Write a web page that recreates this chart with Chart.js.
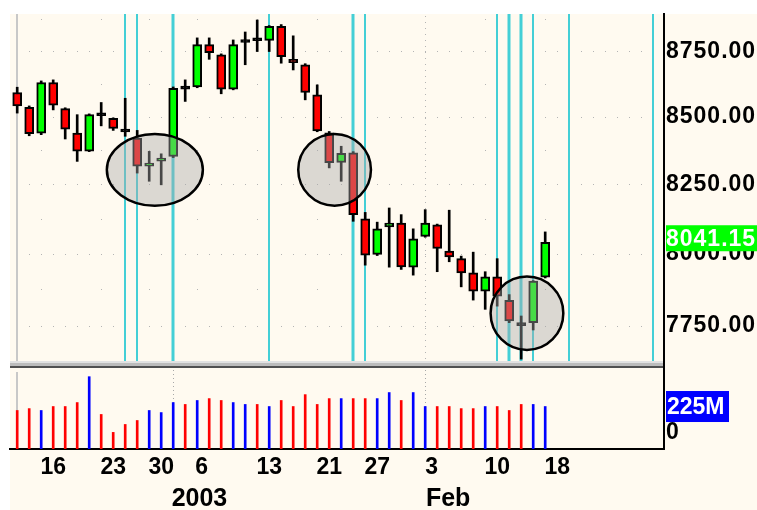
<!DOCTYPE html>
<html>
<head>
<meta charset="utf-8">
<title>Daily candles with volume</title>
<script src="https://cdn.jsdelivr.net/npm/chart.js@4.4.1/dist/chart.umd.min.js"></script>
<style>
  html, body { margin: 0; padding: 0; background: #fff; }
  #wrap { position: relative; width: 757px; height: 510px; overflow: hidden; background: #fff; }
  #paper { position: absolute; left: 10px; top: 14px; right: 0; bottom: 0; background: #fffaf0; }
  canvas { position: absolute; left: 0; }
  #priceChart { top: 0; }
  #volumeChart { top: 362px; }
  #splitter {
    position: absolute; left: 10px; top: 361px; width: 654px; height: 7px;
    background: linear-gradient(#e2e2e2 0, #e2e2e2 2px, #bcbcbc 2px, #bcbcbc 5px, #505050 5px, #505050 7px);
  }
  #splitAxis { position: absolute; left: 663px; top: 361px; width: 2px; height: 8px; background: #000; }
</style>
</head>
<body>
<div id="wrap">
  <div id="paper"></div>
  <canvas id="priceChart" width="757" height="362"></canvas>
  <canvas id="volumeChart" width="757" height="148"></canvas>
  <div id="splitter"></div>
  <div id="splitAxis"></div>
</div>
<script>
// one entry per trading day, 11 Dec 2002 .. 14 Feb 2003
const opens = [8592, 8536, 8439, 8630, 8531, 8439, 8372, 8506, 8494, 8445, 8420, 8316, 8335, 8352, 8607,
  8613, 8776, 8736, 8605, 8784, 8793, 8792, 8847, 8719, 8698, 8583, 8440, 8330, 8366, 8125,
  7998, 8096, 8110, 7953, 8062, 8103, 8010, 7983, 7933, 7869, 7919, 7837, 7752, 7760, 7918];
const highs = [8612, 8541, 8636, 8640, 8534, 8508, 8511, 8554, 8496, 8570, 8449, 8371, 8362, 8613, 8640,
  8802, 8802, 8740, 8794, 8825, 8872, 8850, 8854, 8810, 8702, 8621, 8445, 8390, 8370, 8148,
  8113, 8164, 8140, 8089, 8158, 8106, 8156, 7992, 8006, 7937, 7983, 7857, 7783, 7906, 8078];
const lows = [8514, 8429, 8433, 8526, 8417, 8334, 8370, 8466, 8449, 8427, 8291, 8261, 8248, 8348, 8558,
  8610, 8719, 8587, 8602, 8698, 8749, 8749, 8704, 8678, 8564, 8444, 8310, 8261, 8116, 7960,
  7994, 7953, 7945, 7925, 8059, 7937, 7972, 7884, 7838, 7806, 7817, 7760, 7636, 7735, 7915];
const closes = [8541, 8437, 8630, 8544, 8454, 8372, 8508, 8504, 8456, 8443, 8316, 8328, 8345, 8608, 8605,
  8776, 8745, 8605, 8776, 8786, 8791, 8847, 8729, 8706, 8592, 8447, 8329, 8364, 8140, 7995,
  8089, 8110, 7954, 8053, 8110, 8019, 7989, 7933, 7869, 7919, 7852, 7766, 7750, 7904, 8041.15];
// volume in millions
const volumes = [204, 214, 204, 225, 225, 246, 383, 183, 88, 130, 151, 204, 193, 246, 236,
  257, 267, 257, 246, 236, 236, 225, 257, 225, 288, 236, 267, 267, 267, 267,
  267, 299, 257, 299, 225, 225, 225, 214, 214, 225, 225, 204, 236, 236, 225];

const priceTicks = [7750, 8000, 8250, 8500, 8750];
// tick positions are in bar slots (0 = first bar)
const dateTickBars = [3, 8, 12, 15.37, 21, 26, 30, 34.53, 40, 45];
const dateLabels = ["16", "23", "30", "6", "13", "21", "27", "3", "10", "18"];
const periodTickBars = [12.87, 34.06];
const periodLabels = ["2003", "Feb"];
const weekEndBars = [2, 7, 11, 15, 20, 25, 29, 39, 44];
const periodEndBars = [13, 34];
const signalBars = [9, 10, 21, 29, 40, 43, 46, 53];
const strongSignalBars = [13, 28, 41, 42];
// highlighted zones
const circleBars = [11.47, 26.45, 42.48];
const circleHalfWidthBars = [4.0, 3.03, 3.03];
const circleHighs = [8436, 8436, 7920];
const circleLows = [8172, 8172, 7667];

const X_MIN = -0.6, X_MAX = 53.9;
const PRICE_MIN = 7629.6, PRICE_MAX = 8895.5;
const VOLUME_MAX = 429;
const FONT = "'Liberation Sans', Arial, Helvetica, sans-serif";

Chart.defaults.font.family = FONT;

const isUp = (i) => closes[i] >= opens[i];

function bodyColor(i) {
  if (Math.abs(closes[i] - opens[i]) < 4) return "#000000"; // doji -> just a dash
  return isUp(i) ? "#00ff00" : "#ff0000";
}

function fixedBox(w, h) {
  return (s) => {
    if (w != null) s.width = w;
    if (h != null) s.height = h;
    s.paddingTop = 0; s.paddingBottom = 0; s.paddingLeft = 0; s.paddingRight = 0;
  };
}

const priceDecor = {
  id: "priceDecor",
  beforeDraw(chart) {
    chart.ctx.letterSpacing = "1px";
  },
  beforeDatasetsDraw(chart) {
    const { ctx, chartArea: a, scales: { x, y } } = chart;
    ctx.save();
    ctx.beginPath();
    ctx.rect(a.left, a.top, a.right - a.left, a.bottom - a.top);
    ctx.clip();

    // dotted rows at the price ticks, one dot per bar slot
    ctx.fillStyle = "#b4b4b4";
    for (const p of priceTicks) {
      const py = Math.round(y.getPixelForValue(p));
      for (let k = Math.ceil(X_MIN); k <= X_MAX; k++) {
        ctx.fillRect(Math.round(x.getPixelForValue(k)), py, 1, 1);
      }
    }
    // sparse dots on week ends, at the half steps
    const halfSteps = priceTicks.map((p) => p + 125);
    for (const k of weekEndBars) {
      const px = Math.round(x.getPixelForValue(k));
      for (const p of halfSteps) ctx.fillRect(px, Math.round(y.getPixelForValue(p)), 1, 1);
    }
    // year / month boundary
    for (const k of periodEndBars) {
      const px = Math.round(x.getPixelForValue(k));
      for (let yy = a.top + 2; yy < a.bottom; yy += 6) ctx.fillRect(px, yy, 1, 1);
    }
    // cursor on the first bar
    ctx.fillStyle = "#c8c8c8";
    ctx.fillRect(Math.round(x.getPixelForValue(0)) - 1, a.top, 2, a.bottom - a.top);

    // signal lines
    ctx.fillStyle = "#44cfd6";
    for (const k of signalBars) {
      ctx.fillRect(Math.round(x.getPixelForValue(k)) - 1, a.top, 2, a.bottom - a.top);
    }
    for (const k of strongSignalBars) {
      ctx.fillRect(Math.round(x.getPixelForValue(k)) - 1.5, a.top, 3, a.bottom - a.top);
    }
    ctx.restore();
  },
  afterDatasetsDraw(chart) {
    const { ctx, scales: { x, y } } = chart;
    ctx.save();
    circleBars.forEach((k, i) => {
      const cx = x.getPixelForValue(k);
      const rx = x.getPixelForValue(k + circleHalfWidthBars[i]) - cx;
      const top = y.getPixelForValue(circleHighs[i]);
      const bottom = y.getPixelForValue(circleLows[i]);
      ctx.beginPath();
      ctx.ellipse(cx, (top + bottom) / 2, rx, (bottom - top) / 2, 0, 0, Math.PI * 2);
      ctx.fillStyle = "rgba(170,170,170,0.42)";
      ctx.fill();
      ctx.lineWidth = 2.5;
      ctx.strokeStyle = "#000";
      ctx.stroke();
    });
    ctx.restore();
  },
  afterDraw(chart) {
    const { ctx, chartArea: a, scales: { y } } = chart;
    const last = closes[closes.length - 1];
    const py = y.getPixelForValue(last);
    ctx.save();
    ctx.fillStyle = "#00ff00";
    ctx.fillRect(a.right + 2, py - 17, chart.width - a.right, 26);
    ctx.fillStyle = "#ffffff";
    ctx.font = `bold 23px ${FONT}`;
    ctx.textAlign = "left";
    ctx.textBaseline = "middle";
    ctx.fillText(last.toFixed(2), a.right + 2, py - 3);
    ctx.restore();
  },
};

const volumeDecor = {
  id: "volumeDecor",
  beforeDatasetsDraw(chart) {
    const { ctx, chartArea: a, scales: { x } } = chart;
    ctx.save();
    ctx.fillStyle = "#c8c8c8";
    ctx.fillRect(Math.round(x.getPixelForValue(0)) - 1, a.top + 4, 2, a.bottom - a.top - 4);
    ctx.fillStyle = "#a8a8a8";
    for (const k of periodEndBars) {
      const px = Math.round(x.getPixelForValue(k));
      for (let yy = a.top + 2; yy < a.bottom; yy += 4) ctx.fillRect(px, yy, 1, 1);
    }
    ctx.restore();
  },
  afterDraw(chart) {
    const { ctx, chartArea: a, scales: { y } } = chart;
    const last = volumes[volumes.length - 1];
    const py = y.getPixelForValue(last);
    ctx.save();
    ctx.fillStyle = "#0000ff";
    ctx.fillRect(a.right + 2, py - 15.5, 63, 31);
    ctx.fillStyle = "#ffffff";
    ctx.font = `bold 23px ${FONT}`;
    ctx.textAlign = "left";
    ctx.textBaseline = "middle";
    ctx.fillText(`${last}M`, a.right + 3, py + 1);
    ctx.restore();
  },
};

const tickFont = { family: FONT, size: 23, weight: "bold" };

new Chart(document.getElementById("priceChart"), {
  type: "bar",
  plugins: [priceDecor],
  data: {
    datasets: [
      {
        label: "Body",
        data: opens.map((o, i) => ({ x: i, y: [o, closes[i]] })),
        backgroundColor: opens.map((_, i) => bodyColor(i)),
        borderColor: "#000",
        borderWidth: 2,
        borderSkipped: false,
        barThickness: 9,
        minBarLength: 3,
        grouped: false,
      },
      {
        label: "Range",
        data: lows.map((l, i) => ({ x: i, y: [l, highs[i]] })),
        backgroundColor: "#000",
        borderWidth: 0,
        barThickness: 2,
        grouped: false,
      },
    ],
  },
  options: {
    responsive: false,
    animation: false,
    devicePixelRatio: 1,
    layout: { padding: { left: 10, top: 14, right: 0, bottom: 1 } },
    plugins: { legend: { display: false }, tooltip: { enabled: false } },
    scales: {
      x: { type: "linear", min: X_MIN, max: X_MAX, offset: false, display: false },
      y: {
        type: "logarithmic",
        position: "right",
        min: PRICE_MIN,
        max: PRICE_MAX,
        afterBuildTicks: (s) => { s.ticks = priceTicks.map((v) => ({ value: v })); },
        afterFit: fixedBox(93, null),
        grid: { display: false, drawTicks: false },
        border: { display: true, color: "#000", width: 2 },
        ticks: { padding: 2, color: "#000", font: tickFont, callback: (v) => Number(v).toFixed(2) },
      },
    },
  },
});

new Chart(document.getElementById("volumeChart"), {
  type: "bar",
  plugins: [volumeDecor],
  data: {
    datasets: [
      {
        label: "Volume",
        data: volumes.map((v, i) => ({ x: i, y: v })),
        backgroundColor: volumes.map((_, i) => (isUp(i) ? "#0000ff" : "#ff0000")),
        borderWidth: 0,
        barThickness: 2,
      },
    ],
  },
  options: {
    responsive: false,
    animation: false,
    devicePixelRatio: 1,
    layout: { padding: { left: 10, top: 6, right: 0, bottom: 0 } },
    plugins: { legend: { display: false }, tooltip: { enabled: false } },
    scales: {
      x: {
        type: "linear", position: "bottom", weight: 0,
        min: X_MIN, max: X_MAX, offset: false,
        afterBuildTicks: (s) => { s.ticks = dateTickBars.map((v) => ({ value: v })); },
        afterFit: fixedBox(null, 35),
        grid: { display: false, drawTicks: false },
        border: { display: true, color: "#000", width: 2 },
        ticks: {
          padding: 5, color: "#000", font: tickFont,
          autoSkip: false, maxRotation: 0, minRotation: 0,
          callback: (v, i) => dateLabels[i],
        },
      },
      period: {
        type: "linear", position: "bottom", weight: 1,
        min: X_MIN, max: X_MAX, offset: false,
        afterBuildTicks: (s) => { s.ticks = periodTickBars.map((v) => ({ value: v })); },
        afterFit: fixedBox(null, 26),
        grid: { display: false, drawTicks: false },
        border: { display: false },
        ticks: {
          padding: 0, color: "#000", font: { family: FONT, size: 25, weight: "bold" },
          align: "start", autoSkip: false, maxRotation: 0, minRotation: 0,
          callback: (v, i) => periodLabels[i],
        },
      },
      y: {
        type: "linear", position: "right",
        min: 0, max: VOLUME_MAX,
        afterBuildTicks: (s) => { s.ticks = [{ value: 0 }]; },
        afterFit: fixedBox(93, null),
        grid: { display: false, drawTicks: false },
        border: { display: true, color: "#000", width: 2 },
        ticks: { padding: 2, labelOffset: -16, color: "#000", font: tickFont, callback: (v) => String(v) },
      },
    },
  },
});
</script>
</body>
</html>
